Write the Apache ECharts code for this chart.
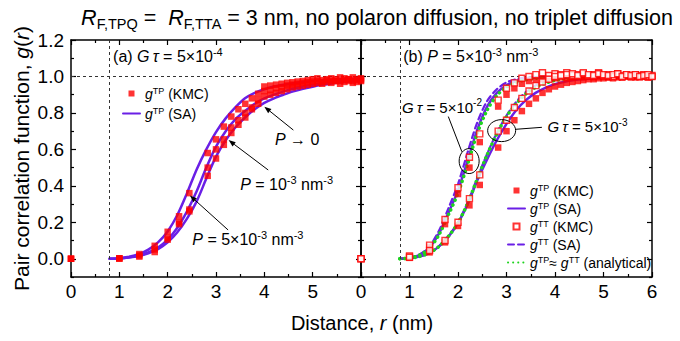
<!DOCTYPE html>
<html><head><meta charset="utf-8">
<script src="https://cdn.jsdelivr.net/npm/echarts@6/dist/echarts.min.js"></script>
<style>html,body{margin:0;padding:0;background:#fff}#c{width:680px;height:341px}</style>
</head><body><div id="c"></div>
<script>
// ---------- data ----------
const rCurve = [0.8,1.0,1.2,1.4,1.6,1.8,2.0,2.2,2.4,2.6,2.8,3.0,3.2,3.4,3.6,3.8,4.0,4.2,4.4,4.6,4.8,5.0,5.2,5.4,5.6,5.8,6.0];
const rKMC = [0,1,1.414,1.732,2,2.236,2.449,2.828,3,3.162,3.317,3.464,3.606,3.742,3.873,4,4.123,4.243,4.359,4.472,4.583,4.69,4.796,4.899,5,5.099,5.196,5.292,5.385,5.477,5.568,5.657,5.745,5.831,5.916,6];

// panel (a): G tau = 5e-4
const saP5e3 = [0,0.003,0.011,0.025,0.05,0.09,0.15,0.24,0.36,0.49,0.6,0.695,0.77,0.83,0.88,0.91,0.93,0.945,0.955,0.963,0.97,0.975,0.979,0.982,0.985,0.987,0.989];
const saP1e3 = [0,0.002,0.008,0.018,0.035,0.062,0.105,0.17,0.26,0.37,0.5,0.615,0.7,0.765,0.81,0.85,0.88,0.9,0.918,0.933,0.945,0.955,0.963,0.97,0.975,0.979,0.982];
const saP0   = [0,0.002,0.007,0.015,0.03,0.053,0.09,0.145,0.22,0.315,0.44,0.56,0.65,0.72,0.775,0.82,0.855,0.88,0.9,0.918,0.932,0.944,0.954,0.962,0.968,0.973,0.977];
const kmcP5e3 = [0,0.003,0.026,0.071,0.148,0.233,0.36,0.58,0.655,0.725,0.78,0.82,0.85,0.88,0.905,0.945,0.95,0.955,0.96,0.965,0.968,0.972,0.975,0.98,0.985,0.99,0.98,0.985,0.99,0.975,0.995,0.99,0.985,0.995,0.98,0.99];
const kmcP1e3 = [0,0.002,0.018,0.051,0.115,0.2,0.27,0.5,0.6,0.655,0.72,0.76,0.8,0.83,0.87,0.92,0.925,0.935,0.94,0.95,0.955,0.96,0.965,0.968,0.972,0.975,0.97,0.98,0.975,0.985,0.975,0.98,0.985,0.975,0.985,0.98];
const kmcP0   = [0,0.001,0.012,0.037,0.105,0.19,0.26,0.455,0.55,0.625,0.69,0.735,0.775,0.82,0.85,0.89,0.9,0.91,0.92,0.93,0.94,0.945,0.95,0.955,0.96,0.965,0.96,0.97,0.965,0.975,0.96,0.97,0.975,0.965,0.97,0.975];

// panel (b): P = 5e-3, G tau = 5e-2 (fast) and 5e-3 (slow)
const saTPfast  = [0,0.005,0.02,0.058,0.135,0.25,0.375,0.54,0.71,0.835,0.91,0.952,0.975,0.987,0.993,0.996,0.998,0.999,1,1,1,1,1,1,1,1,1];
const saTTfast  = [0,0.006,0.023,0.065,0.15,0.275,0.41,0.585,0.75,0.865,0.93,0.967,0.985,0.994,0.998,1,1.001,1.001,1,1,1,1,1,1,1,1,1];
const anaFast   = [0,0.005,0.019,0.055,0.128,0.24,0.36,0.52,0.69,0.815,0.895,0.942,0.968,0.982,0.99,0.995,0.997,0.998,0.999,1,1,1,1,1,1,1,1];
const saTPslow  = [0,0.003,0.012,0.03,0.065,0.12,0.195,0.3,0.43,0.545,0.65,0.74,0.815,0.87,0.91,0.938,0.958,0.971,0.98,0.986,0.99,0.993,0.995,0.997,0.998,0.999,1];
const saTTslow  = [0,0.003,0.013,0.032,0.068,0.125,0.2,0.31,0.445,0.575,0.69,0.785,0.86,0.915,0.95,0.972,0.985,0.992,0.996,0.998,0.999,1,1,1,1,1,1];
const anaSlow   = [0,0.003,0.012,0.031,0.066,0.122,0.197,0.305,0.44,0.57,0.685,0.78,0.85,0.905,0.94,0.963,0.978,0.987,0.992,0.995,0.997,0.998,0.999,1,1,1,1];
const kmcTPfast = [0,0.01,0.065,0.19,0.355,0.5,0.64,0.835,0.9,0.935,0.96,0.975,0.98,0.985,0.99,0.99,0.995,0.99,0.995,1,0.995,1,0.995,1,1,0.995,1,1,0.995,1,1,0.995,1,1,0.995,1];
const kmcTTfast = [0,0.015,0.075,0.215,0.39,0.557,0.685,0.87,0.935,0.965,0.99,1,1.01,1.02,1.005,1.015,1.01,1.02,1.005,1.01,1.015,1.005,1.01,1.02,1.005,1.01,1,1.015,1.005,1.01,1,1.01,1.005,1.01,1,1.005];
const kmcTPslow = [0,0.005,0.035,0.09,0.18,0.293,0.405,0.61,0.7,0.76,0.81,0.85,0.88,0.91,0.93,0.945,0.955,0.965,0.97,0.975,0.98,0.985,0.985,0.99,0.99,0.995,0.99,0.995,0.995,1,0.995,1,0.995,1,0.995,1];
const kmcTTslow = [0,0.008,0.045,0.1,0.2,0.33,0.46,0.7,0.76,0.83,0.88,0.92,0.95,0.97,0.985,1,1.005,1.01,1.015,1.005,1.02,1.01,1.005,1.015,1.01,1.005,1.01,1.015,1,1.01,1.005,1.01,1,1.005,1.01,1];

const yTicks = [0,0.2,0.4,0.6,0.8,1.0,1.2];
const yMinorTicks = [-0.1,0.1,0.3,0.5,0.7,0.9,1.1];
const rCutoff = 0.8;

// ---------- styles ----------
const FONT = '"Liberation Sans", Arial, sans-serif';
const PURPLE = '#6a1fe6';
const RED = '#ff0000';
const GREEN = '#1ed41e';
const zip = (xs, ys) => xs.map((x, i) => [x, ys[i]]);
const SQUARE = 'path://M0,0L10,0L10,10L0,10Z';
const NOSYM = {color: 'rgba(0,0,0,0)', borderColor: 'rgba(0,0,0,0)', borderWidth: 0};

function rich(base, lh) {
  lh = lh || base + 4;
  return {
    i: {fontStyle: 'italic', fontSize: base, fontFamily: FONT, color: '#000', lineHeight: lh},
    sup: {fontSize: Math.round(base * 0.66), fontFamily: FONT, color: '#000', verticalAlign: 'top', lineHeight: Math.round(base * 0.7)},
    sub: {fontSize: Math.round(base * 0.66), fontFamily: FONT, color: '#000', verticalAlign: 'bottom', lineHeight: Math.round(base * 0.7)}
  };
}

function yAx(grid, pos, major, labels, name) {
  const vals = major ? yTicks : yMinorTicks;
  const a = {
    type: 'value', gridIndex: grid, position: pos, min: -0.1, max: 1.2,
    axisLine: {show: major, onZero: false, lineStyle: {color: '#000', width: 1.5}},
    axisTick: {show: true, inside: true, length: major ? 5 : 3, customValues: vals, lineStyle: {color: '#000', width: 1.2}},
    axisLabel: {show: labels, customValues: vals, formatter: v => v.toFixed(1), fontSize: 19, fontFamily: FONT, color: '#000', margin: 7},
    splitLine: {show: false}
  };
  if (name) {
    a.name = name; a.nameLocation = 'middle'; a.nameGap = 32;
    a.nameTextStyle = {fontSize: 21, fontFamily: FONT, color: '#000', lineHeight: 24, rich: rich(21, 24)};
  }
  return a;
}
function xAx(grid, pos, labels, hideMax) {
  return {
    type: 'value', gridIndex: grid, position: pos, min: 0, max: 6, interval: 1,
    axisLine: {onZero: false, lineStyle: {color: '#000', width: 1.5}},
    axisTick: {inside: true, length: 5, lineStyle: {color: '#000', width: 1.2}},
    minorTick: {show: true, splitNumber: 2, length: 3, lineStyle: {color: '#000', width: 1.2}},
    axisLabel: {show: labels, showMaxLabel: !hideMax, fontSize: 19, fontFamily: FONT, color: '#000', margin: 5},
    splitLine: {show: false}
  };
}

const guideLines = {
  silent: true, symbol: 'none', label: {show: false},
  lineStyle: {color: '#333', type: [3, 3], width: 1},
  data: [{xAxis: rCutoff}, {yAxis: 1.0}]
};

function line(name, xi, yi, ys, type, color, width, extra) {
  return Object.assign({
    type: 'line', name, xAxisIndex: xi, yAxisIndex: yi, data: zip(rCurve, ys),
    showSymbol: false, symbol: 'circle', smooth: 0.3, clip: true,
    lineStyle: {color, width, type, cap: 'round'}, itemStyle: {color}, z: 3
  }, extra || {});
}
function pts(name, xi, yi, ys, open) {
  return {
    type: 'scatter', name, xAxisIndex: xi, yAxisIndex: yi, data: zip(rKMC, ys),
    symbol: 'rect', symbolSize: open ? 6 : 6.5, clip: true, z: open ? 6 : 5,
    itemStyle: open ? {color: '#fff', borderColor: RED, borderWidth: 1.4} : {color: RED}
  };
}

const legendNames = {
  TP_KMC: '{i|g}{sup|TP} (KMC)',
  TP_SA: '{i|g}{sup|TP} (SA)',
  TT_KMC: '{i|g}{sup|TT} (KMC)',
  TT_SA: '{i|g}{sup|TT} (SA)',
  ANA: '{i|g}{sup|TP}≈ {i|g}{sup|TT} (analytical)'
};
const legendText = {fontSize: 14, fontFamily: FONT, color: '#000', lineHeight: 15, rich: rich(14, 15)};
const legData = {
  TP_KMC: {name: 'TP_KMC', icon: SQUARE},
  TP_SA: {name: 'TP_SA', itemStyle: NOSYM},
  TT_KMC: {name: 'TT_KMC', icon: SQUARE},
  TT_SA: {name: 'TT_SA', itemStyle: NOSYM},
  ANA: {name: 'ANA', itemStyle: NOSYM}
};

const option = {
  animation: false,
  backgroundColor: '#fff',
  grid: [
    {left: 71, top: 40, width: 290, height: 237},
    {left: 361, top: 40, width: 291, height: 237}
  ],
  xAxis: [xAx(0, 'bottom', true, true), xAx(0, 'top', false, false), xAx(1, 'bottom', true, false), xAx(1, 'top', false, false)],
  yAxis: [
    yAx(0, 'left', true, true, 'Pair correlation function, {i|g}({i|r})'), yAx(0, 'left', false, false),
    yAx(0, 'right', true, false), yAx(0, 'right', false, false),
    yAx(1, 'left', true, false), yAx(1, 'left', false, false),
    yAx(1, 'right', true, false), yAx(1, 'right', false, false)
  ],
  legend: [
    {data: [legData.TP_KMC, legData.TP_SA], orient: 'vertical', left: 117, top: 81, itemWidth: 17, itemHeight: 6, itemGap: 5,
     selectedMode: false, formatter: n => legendNames[n], textStyle: legendText},
    {data: [legData.TP_KMC, legData.TP_SA, legData.TT_KMC, legData.TT_SA, legData.ANA], orient: 'vertical', left: 502, top: 178,
     itemWidth: 17, itemHeight: 6, itemGap: 3,
     selectedMode: false, formatter: n => legendNames[n], textStyle: legendText}
  ],
  series: [
    line('TP_SA', 0, 0, saP5e3, 'solid', PURPLE, 2.5, {markLine: guideLines}),
    line('TP_SA', 0, 0, saP1e3, 'solid', PURPLE, 2.5),
    line('TP_SA', 0, 0, saP0, 'solid', PURPLE, 2.5),
    pts('TP_KMC', 0, 0, kmcP5e3, false),
    pts('TP_KMC', 0, 0, kmcP1e3, false),
    pts('TP_KMC', 0, 0, kmcP0, false),

    line('TP_SA', 2, 4, saTPfast, 'solid', PURPLE, 2.5, {markLine: guideLines}),
    line('TP_SA', 2, 4, saTPslow, 'solid', PURPLE, 2.5),
    line('TT_SA', 2, 4, saTTfast, [6, 4], PURPLE, 2.2),
    line('TT_SA', 2, 4, saTTslow, [6, 4], PURPLE, 2.2),
    line('ANA', 2, 4, anaFast, [0.1, 5], GREEN, 3.5, {z: 4}),
    line('ANA', 2, 4, anaSlow, [0.1, 5], GREEN, 3.5, {z: 4}),
    pts('TP_KMC', 2, 4, kmcTPfast, false),
    pts('TP_KMC', 2, 4, kmcTPslow, false),
    pts('TT_KMC', 2, 4, kmcTTfast, true),
    pts('TT_KMC', 2, 4, kmcTTslow, true)
  ]
};

const chart = echarts.init(document.getElementById('c'), null, {renderer: 'svg'});
chart.setOption(option);

// ---------- annotations ----------
const PA = (x, y) => chart.convertToPixel({xAxisIndex: 0, yAxisIndex: 0}, [x, y]);
const PB = (x, y) => chart.convertToPixel({xAxisIndex: 2, yAxisIndex: 4}, [x, y]);

function txt(p, text, size, align) {
  return {type: 'text', x: p[0], y: p[1], z: 20, style: {
    text, fontSize: size, fontFamily: FONT, fill: '#000', align: align || 'left', verticalAlign: 'middle',
    lineHeight: size + 4, rich: rich(size)}};
}
function arrow(p1, p2) {
  const dx = p2[0] - p1[0], dy = p2[1] - p1[1], L = Math.hypot(dx, dy), ux = dx / L, uy = dy / L;
  const hl = 7, hw = 2.6, bx = p2[0] - ux * hl, by = p2[1] - uy * hl;
  return [
    {type: 'line', z: 20, shape: {x1: p1[0], y1: p1[1], x2: bx, y2: by}, style: {stroke: '#000', lineWidth: 1}},
    {type: 'polygon', z: 20, shape: {points: [p2, [bx - uy * hw, by + ux * hw], [bx + uy * hw, by - ux * hw]]}, style: {fill: '#000'}}
  ];
}
function seg(p1, p2) {
  return {type: 'line', z: 20, shape: {x1: p1[0], y1: p1[1], x2: p2[0], y2: p2[1]}, style: {stroke: '#000', lineWidth: 1}};
}
function ell(p, rx, ry) {
  return {type: 'ellipse', z: 20, shape: {cx: p[0], cy: p[1], rx, ry}, style: {fill: 'none', stroke: '#000', lineWidth: 1}};
}

const g = [];
g.push({type: 'text', x: 377, y: 18, z: 20, style: {
  text: '{i|R}{sub|F,TPQ} =  {i|R}{sub|F,TTA} = 3 nm, no polaron diffusion, no triplet diffusion',
  fontSize: 21.5, fontFamily: FONT, fill: '#000', align: 'center', verticalAlign: 'middle', lineHeight: 27,
  rich: {i: {fontStyle: 'italic', fontSize: 21.5, fontFamily: FONT, lineHeight: 27},
    sub: {fontSize: 14.5, fontFamily: FONT, verticalAlign: 'bottom', lineHeight: 15}}}});
g.push({type: 'text', x: 362, y: 323, z: 20, style: {
  text: 'Distance, {i|r} (nm)', fontSize: 20, fontFamily: FONT, fill: '#000', align: 'center', verticalAlign: 'middle',
  lineHeight: 24, rich: rich(20)}});

g.push(txt(PA(0.87, 1.112), '(a) {i|G\u2009τ} = 5×10{sup|-4}', 16));
g.push(txt(PA(4.68, 0.652), '{i|P} → 0', 16, 'center'));
g.push(...arrow(PA(4.6, 0.706), PA(4.0, 0.834)));
g.push(txt(PA(3.5, 0.405), '{i|P} = 10{sup|-3} nm{sup|-3}', 16));
g.push(...arrow(PA(4.08, 0.487), PA(3.26, 0.651)));
g.push(txt(PA(2.51, 0.103), '{i|P} = 5×10{sup|-3} nm{sup|-3}', 16));
g.push(...arrow(PA(3.25, 0.158), PA(2.46, 0.347)));

g.push(txt(PB(0.87, 1.112), '(b) {i|P} = 5×10{sup|-3} nm{sup|-3}', 16));
g.push(txt(PB(1.67, 0.832), '{i|G\u2009τ} = 5×10{sup|-2}', 15, 'center'));
g.push(seg(PB(1.8, 0.78), PB(2.08, 0.587)));
g.push(ell(PB(2.23, 0.536), 10, 12.5));
g.push(txt(PB(4.67, 0.723), '{i|G\u2009τ} = 5×10{sup|-3}', 15, 'center'));
g.push(seg(PB(3.18, 0.71), PB(3.73, 0.721)));
g.push(ell(PB(2.9, 0.703), 14, 11));

chart.setOption({graphic: g});
</script>
</body></html>
